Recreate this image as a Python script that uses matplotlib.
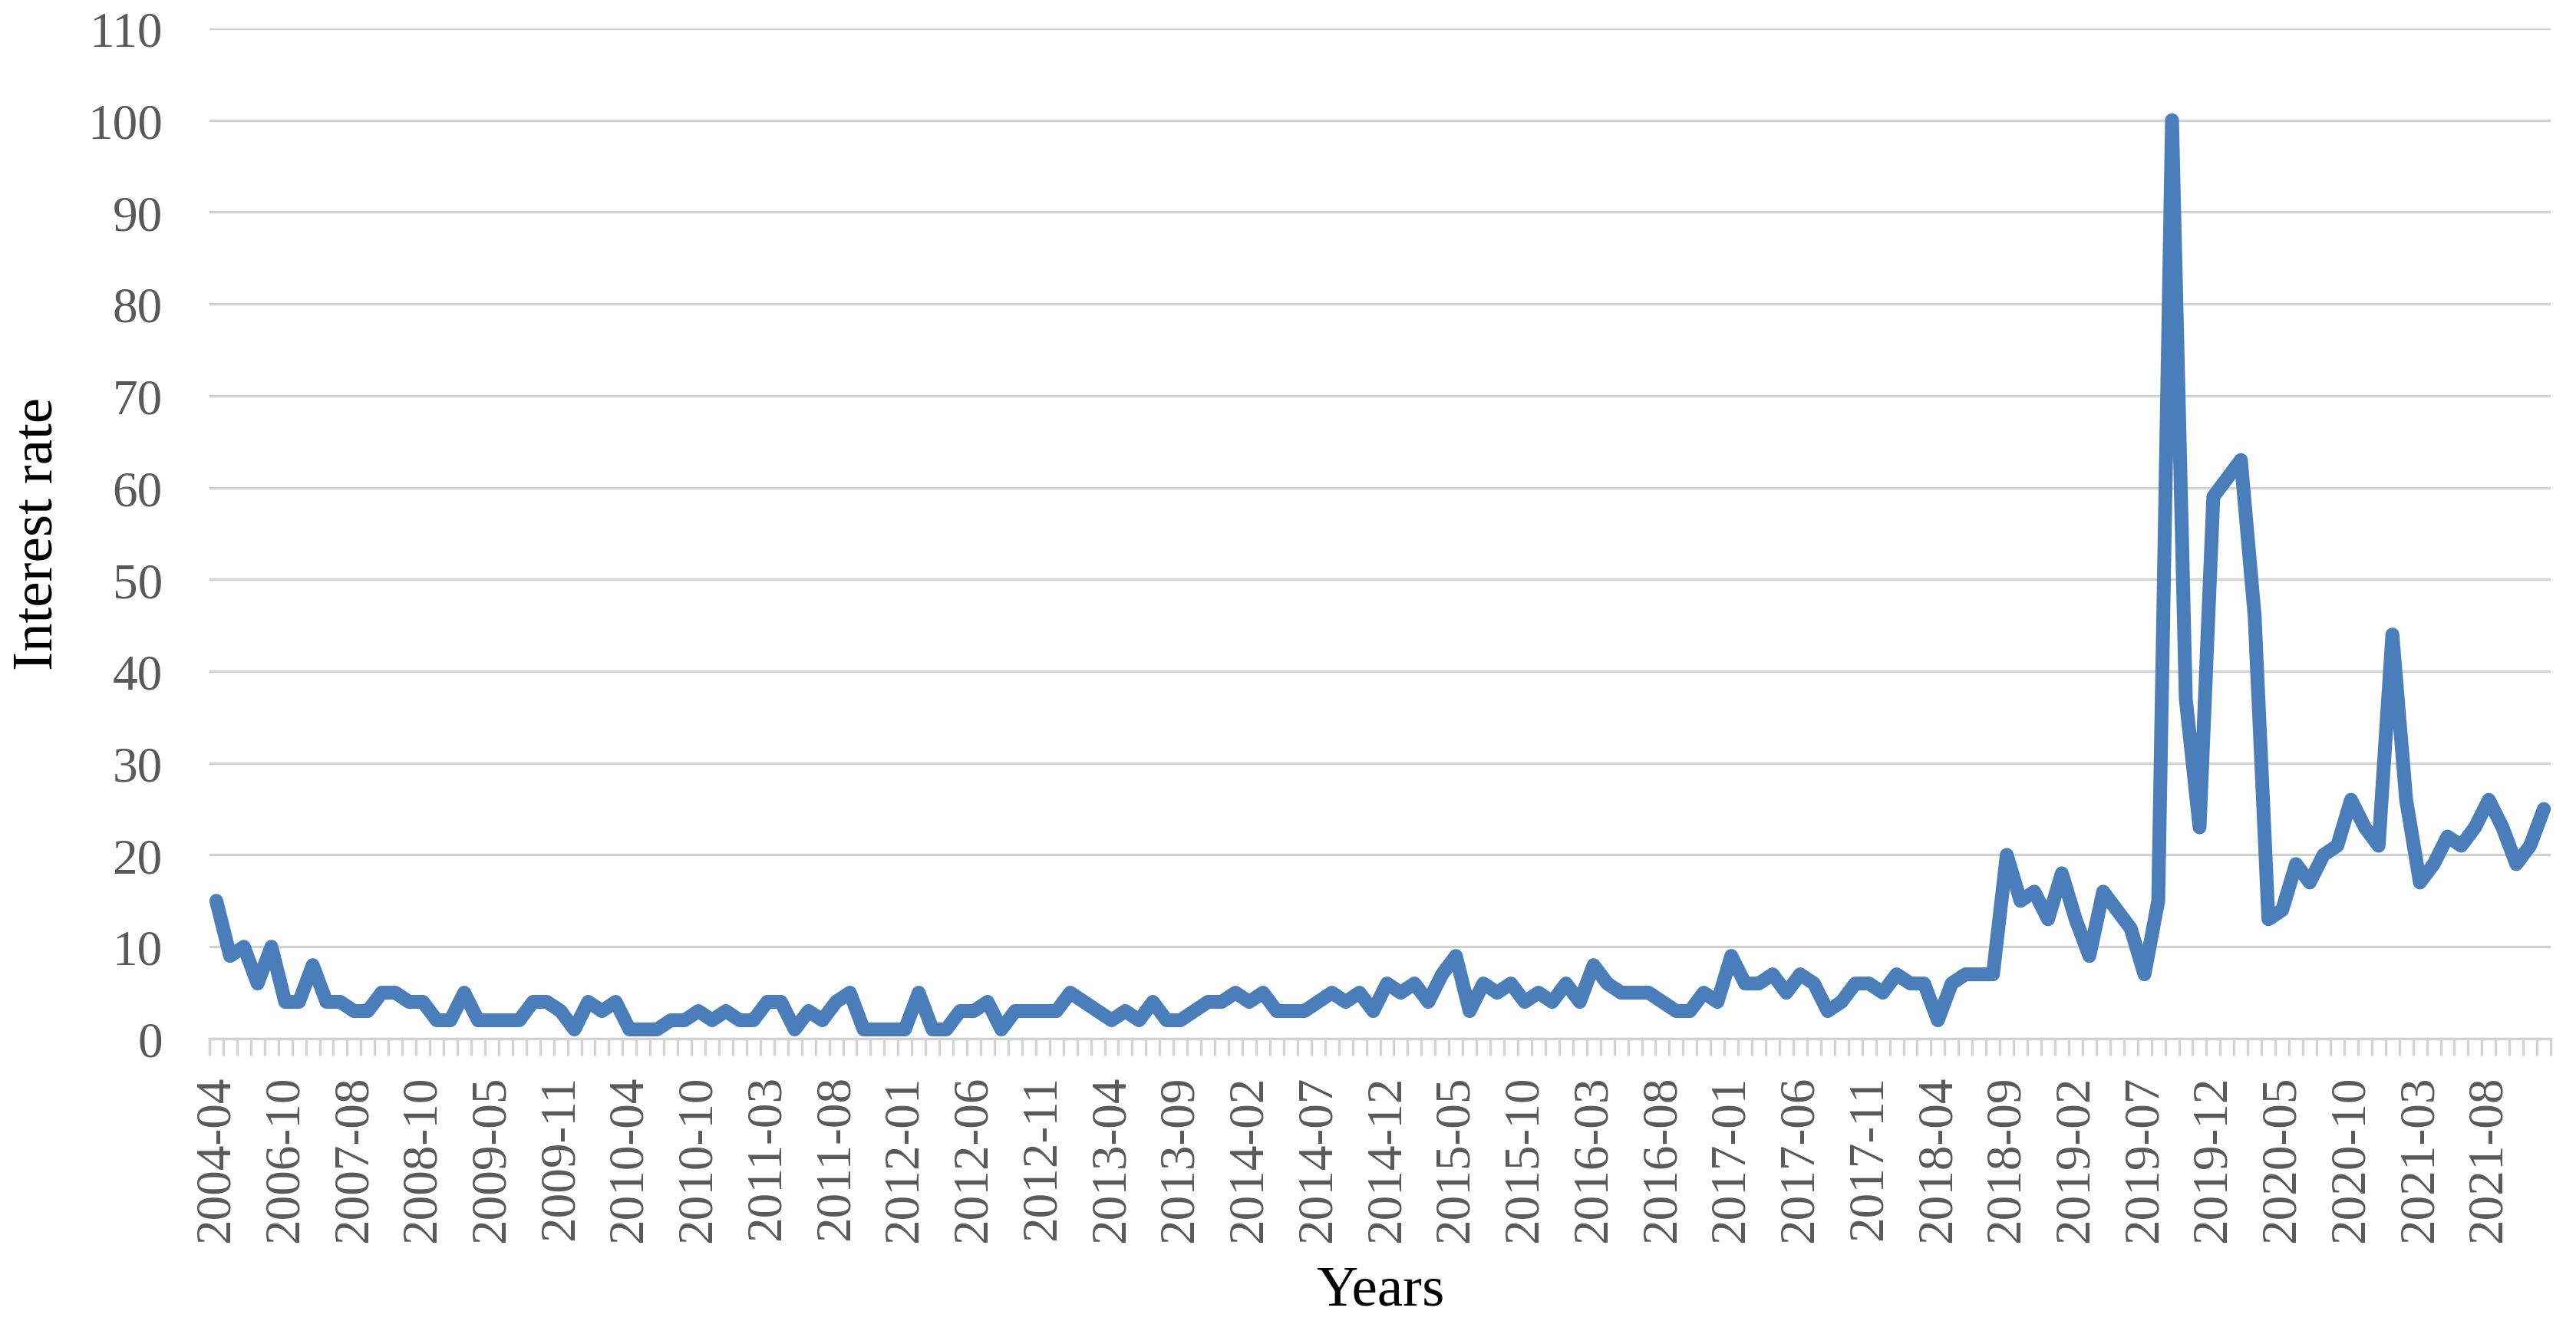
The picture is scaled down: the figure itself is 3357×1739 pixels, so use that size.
import matplotlib
matplotlib.use("Agg")
import matplotlib.pyplot as plt
import numpy as np

# category labels shown on the x axis (every 5th category)
tick_labels = ["2004-04", "2006-10", "2007-08", "2008-10", "2009-05", "2009-11",
               "2010-04", "2010-10", "2011-03", "2011-08", "2012-01", "2012-06",
               "2012-11", "2013-04", "2013-09", "2014-02", "2014-07", "2014-12",
               "2015-05", "2015-10", "2016-03", "2016-08", "2017-01", "2017-06",
               "2017-11", "2018-04", "2018-09", "2019-02", "2019-07", "2019-12",
               "2020-05", "2020-10", "2021-03", "2021-08"]

# interest values, one per category
values = [15, 9, 10, 6, 10, 4, 4, 8, 4, 4,
          3, 3, 5, 5, 4, 4, 2, 2, 5, 2,
          2, 2, 2, 4, 4, 3, 1, 4, 3, 4,
          1, 1, 1, 2, 2, 3, 2, 3, 2, 2,
          4, 4, 1, 3, 2, 4, 5, 1, 1, 1,
          1, 5, 1, 1, 3, 3, 4, 1, 3, 3,
          3, 3, 5, 4, 3, 2, 3, 2, 4, 2,
          2, 3, 4, 4, 5, 4, 5, 3, 3, 3,
          4, 5, 4, 5, 3, 6, 5, 6, 4, 7,
          9, 3, 6, 5, 6, 4, 5, 4, 6, 4,
          8, 6, 5, 5, 5, 4, 3, 3, 5, 4,
          9, 6, 6, 7, 5, 7, 6, 3, 4, 6,
          6, 5, 7, 6, 6, 2, 6, 7, 7, 7,
          20, 15, 16, 13, 18, 13, 9, 16, 14, 12,
          7, 15, 100, 37, 23, 59, 61, 63, 46, 13,
          14, 19, 17, 20, 21, 26, 23, 21, 44, 26,
          17, 19, 22, 21, 23, 26, 23, 19, 21, 25]

label_step = 5

plt.rcParams["font.family"] = ["Liberation Serif", "DejaVu Serif"]

fig = plt.figure(figsize=(33.57, 17.40), dpi=100)
ax = fig.add_axes([0.0813, 0.2213, 0.9089, 0.7569])

x = np.arange(len(values))
ax.plot(x, values, color="#4a7ebb", linewidth=13,
        solid_joinstyle="round", solid_capstyle="round", zorder=3)

ax.set_xlim(-0.5, len(values) - 0.5)
ax.set_ylim(0, 110)
ax.set_yticks(np.arange(0, 111, 10))
ax.yaxis.grid(True, color="#d4d4d4", linewidth=2.5)
ax.set_axisbelow(True)

ax.set_xticks(x[::label_step][:len(tick_labels)])
ax.set_xticklabels(tick_labels, rotation=90)
ax.set_xticks(np.arange(-0.5, len(values)), minor=True)

for s in ["top", "right", "left"]:
    ax.spines[s].set_visible(False)
ax.spines["bottom"].set_color("#d4d4d4")
ax.spines["bottom"].set_linewidth(2.5)

ax.tick_params(axis="x", which="major", length=0, pad=34, labelsize=47, labelcolor="#595959")
ax.tick_params(axis="x", which="minor", length=16, width=2.5, color="#d4d4d4")
ax.tick_params(axis="y", length=0, pad=44, labelsize=47, labelcolor="#595959")

ax.set_ylabel("Interest rate", fontsize=54, color="black", labelpad=22)
ax.set_xlabel("Years", fontsize=54, color="black", labelpad=22)

fig.savefig("out.png", dpi=100, facecolor="white")
